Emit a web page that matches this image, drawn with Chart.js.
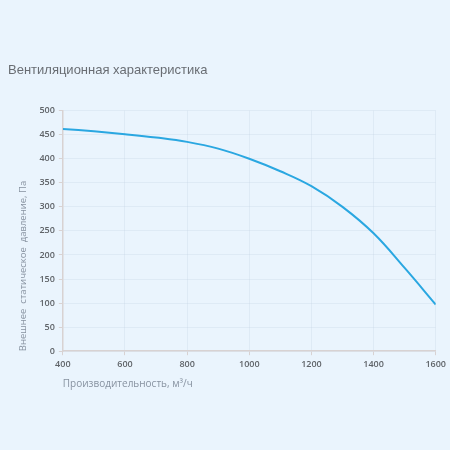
<!DOCTYPE html>
<html>
<head>
<meta charset="utf-8">
<script src="https://cdn.jsdelivr.net/npm/chart.js@4.4.1/dist/chart.umd.min.js"></script>
<style>
    html, body { margin: 0; padding: 0; background: #eaf4fd; }
    #wrap { position: relative; width: 450px; height: 450px; }
</style>
</head>
<body>
<div id="wrap"><canvas id="fanChart"></canvas></div>
<script>
// Fan curve
const airflow = [400, 500, 600, 700, 800, 900, 1000, 1100, 1200, 1300, 1400, 1500, 1600];
const pressure = [462, 457, 451, 444, 435, 421, 400, 374, 343, 300, 245, 173, 97];
const xTicks = [400, 600, 800, 1000, 1200, 1400, 1600];
const yTicks = [0, 50, 100, 150, 200, 250, 300, 350, 400, 450, 500];

document.addEventListener('DOMContentLoaded', function() {
    drawChart();
});

function drawChart() {
    const ctx = document.getElementById('fanChart').getContext('2d');
    new Chart(ctx, {
        type: 'line',
        data: {
            datasets: [{
                data: airflow.map((x, i) => ({ x: x, y: pressure[i] })),
                borderColor: '#2aa7e1',
                borderWidth: 2,
                pointRadius: 0,
                fill: false,
                tension: 0.4
            }]
        },
        options: {
            responsive: true,
            maintainAspectRatio: false,
            animation: false,
            layout: { padding: { left: 8, right: 13, top: 63, bottom: 56 } },
            plugins: {
                legend: { display: false },
                tooltip: { enabled: false },
                title: {
                    display: true,
                    text: 'Вентиляционная характеристика',
                    align: 'start',
                    color: '#696d73',
                    font: { family: 'Liberation Sans', size: 13, weight: 'normal' },
                    padding: { top: 0, bottom: 32 }
                }
            },
            scales: {
                x: {
                    type: 'linear',
                    min: 400,
                    max: 1600,
                    afterBuildTicks: axis => { axis.ticks = xTicks.map(v => ({ value: v })); },
                    grid: { color: 'rgba(200,215,230,0.35)', tickLength: 4, tickColor: '#d8d2d2' },
                    border: { color: '#d8d2d2', width: 1.5 },
                    ticks: {
                        color: '#5f6368',
                        font: { family: 'Open Sans', size: 9, weight: '600' },
                        maxRotation: 0,
                        padding: 4,
                        callback: v => String(v)
                    },
                    title: {
                        display: true,
                        text: 'Производительность, м³/ч',
                        align: 'start',
                        color: '#8792a0',
                        font: { family: 'Open Sans', size: 10 },
                        padding: { top: 4 }
                    }
                },
                y: {
                    min: 0,
                    max: 500,
                    afterBuildTicks: axis => { axis.ticks = yTicks.map(v => ({ value: v })); },
                    grid: { color: 'rgba(200,215,230,0.35)', tickLength: 4, tickColor: '#d8d2d2' },
                    border: { color: '#d8d2d2', width: 1.5 },
                    ticks: {
                        color: '#5f6368',
                        font: { family: 'Open Sans', size: 9, weight: '600' },
                        padding: 4,
                        callback: v => String(v)
                    },
                    title: {
                        display: true,
                        text: 'Внешнее  статическое  давление, Па',
                        align: 'start',
                        color: '#8792a0',
                        font: { family: 'Open Sans', size: 9.5 },
                        padding: { top: 10, bottom: 6 }
                    }
                }
            }
        }
    });
}
</script>
</body>
</html>
